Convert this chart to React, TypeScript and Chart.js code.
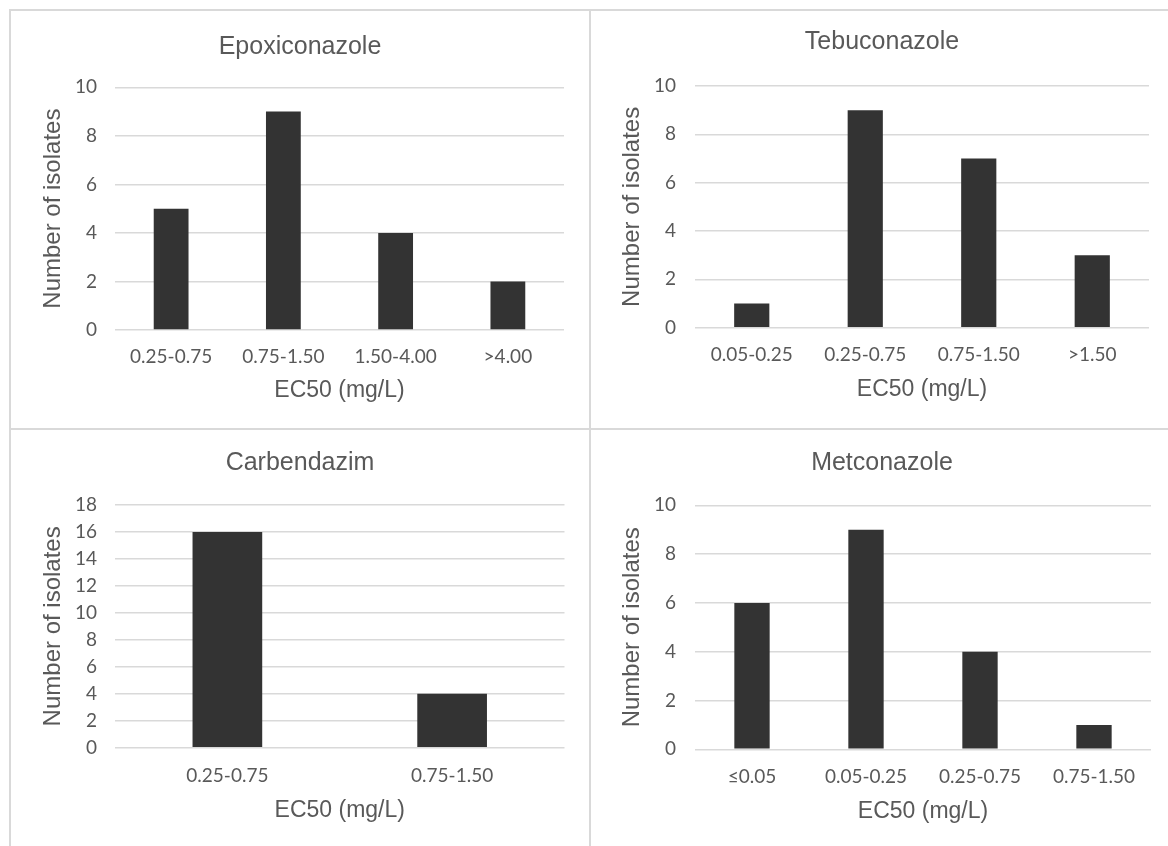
import React, { useEffect, useRef } from "react";
import { Chart, registerables } from "chart.js";

Chart.register(...registerables);

// ---------- data ----------
const epoxiconazoleCategories = ["0.25-0.75", "0.75-1.50", "1.50-4.00", ">4.00"];
const epoxiconazoleValues = [5, 9, 4, 2];

const tebuconazoleCategories = ["0.05-0.25", "0.25-0.75", "0.75-1.50", ">1.50"];
const tebuconazoleValues = [1, 9, 7, 3];

const carbendazimCategories = ["0.25-0.75", "0.75-1.50"];
const carbendazimValues = [16, 4];

const metconazoleCategories = ["≤0.05", "0.05-0.25", "0.25-0.75", "0.75-1.50"];
const metconazoleValues = [6, 9, 4, 1];

const yAxisMax = [10, 10, 18, 10];
const yAxisStep = [2, 2, 2, 2];

const panelTitles = ["Epoxiconazole", "Tebuconazole", "Carbendazim", "Metconazole"];
const xAxisTitle = "EC50 (mg/L)";
const yAxisTitle = "Number of isolates";

// ---------- styles / layout ----------
const TEXT = "#595959";
const GRID = "#d9d9d9";
const BAR = "#333333";
const BORDER = "#d9d9d9";

const TITLE_FONT = { family: "'Liberation Sans', Arial, sans-serif", size: 25 };
const X_TITLE_FONT = { family: "'Liberation Sans', Arial, sans-serif", size: 23 };
const Y_TITLE_FONT = { family: "'Liberation Sans', Arial, sans-serif", size: 24 };
const TICK_FONT = { family: "Lato, 'Open Sans', sans-serif", size: 19 };

type Layout = {
  cx: number; cy: number; w: number; h: number;
  plotLeft: number; plotRight: number; plotTop: number; plotBottom: number;
  titleX: number; titleY: number; yTitleX: number;
  tickGap: number; xTitleGap: number; yTickPad: number;
};

const layouts: Layout[] = [
  { cx: 10, cy: 10, w: 580, h: 418, plotLeft: 115, plotRight: 564, plotTop: 87.3, plotBottom: 330,
    titleX: 300, titleY: 47, yTitleX: 53.5, tickGap: 27, xTitleGap: 60.5, yTickPad: 18 },
  { cx: 590, cy: 10, w: 578, h: 418, plotLeft: 695, plotRight: 1149, plotTop: 86, plotBottom: 327.7,
    titleX: 882, titleY: 42, yTitleX: 632.5, tickGap: 27.3, xTitleGap: 62, yTickPad: 19 },
  { cx: 10, cy: 428, w: 580, h: 418, plotLeft: 115, plotRight: 564.5, plotTop: 505, plotBottom: 747.7,
    titleX: 300, titleY: 462.7, yTitleX: 53.5, tickGap: 28.3, xTitleGap: 62.5, yTickPad: 18 },
  { cx: 590, cy: 428, w: 578, h: 418, plotLeft: 695, plotRight: 1151, plotTop: 505.3, plotBottom: 749.3,
    titleX: 882, titleY: 462.7, yTitleX: 632.5, tickGap: 27.7, xTitleGap: 62.4, yTickPad: 19 },
];

const panelData = [
  { categories: epoxiconazoleCategories, values: epoxiconazoleValues },
  { categories: tebuconazoleCategories, values: tebuconazoleValues },
  { categories: carbendazimCategories, values: carbendazimValues },
  { categories: metconazoleCategories, values: metconazoleValues },
];

function Panel({ index }: { index: number }) {
  const ref = useRef<HTMLCanvasElement | null>(null);
  const L = layouts[index];

  useEffect(() => {
    if (!ref.current) return;
    const { categories, values } = panelData[index];
    const cl = L.plotLeft - L.cx;
    const cr = L.plotRight - L.cx;
    const ct = L.plotTop - L.cy;
    const cb = L.plotBottom - L.cy;
    const padRight = L.w - cr;
    const padLeft = Math.max(0, 2 * (L.titleX - L.cx) - cr);
    const yWidth = cl - padLeft;
    const titleLH = TITLE_FONT.size * 1.2;
    const xAxisLH = X_TITLE_FONT.size * 1.2;
    const yAxisLH = Y_TITLE_FONT.size * 1.2;
    const tickLH = TICK_FONT.size * 1.2;
    const titlePadTop = L.titleY - L.cy - titleLH / 2;
    const titlePadBottom = ct - titlePadTop - titleLH;
    const yTitlePadTop = L.yTitleX - L.cx - padLeft - yAxisLH / 2;
    const xHeight = L.h - cb;
    const tickPad = L.tickGap - tickLH / 2;
    const xTitlePadBottom = xHeight - L.xTitleGap - xAxisLH / 2;

    const chart = new Chart(ref.current, {
      type: "bar",
      data: {
        labels: categories,
        datasets: [
          {
            data: values,
            backgroundColor: BAR,
            borderWidth: 0,
            categoryPercentage: 1,
            barPercentage: 0.31,
          },
        ],
      },
      options: {
        animation: false,
        responsive: false,
        maintainAspectRatio: false,
        devicePixelRatio: 1,
        layout: { padding: { left: padLeft, right: padRight, top: 0, bottom: 0 } },
        plugins: {
          legend: { display: false },
          tooltip: { enabled: false },
          title: {
            display: true,
            text: panelTitles[index],
            color: TEXT,
            font: { ...TITLE_FONT, weight: "normal" },
            padding: { top: titlePadTop, bottom: titlePadBottom },
          },
        },
        scales: {
          x: {
            grid: { display: false, drawTicks: false },
            border: { display: false },
            ticks: { color: TEXT, font: TICK_FONT, padding: tickPad, maxRotation: 0, autoSkip: false },
            title: {
              display: true,
              text: xAxisTitle,
              color: TEXT,
              font: X_TITLE_FONT,
              padding: { top: 0, bottom: xTitlePadBottom },
            },
            afterFit: (s: any) => { s.height = xHeight; },
          },
          y: {
            min: 0,
            max: yAxisMax[index],
            grid: { color: GRID, lineWidth: 1.5, drawTicks: false },
            border: { display: false },
            ticks: { color: TEXT, font: TICK_FONT, stepSize: yAxisStep[index], padding: L.yTickPad },
            title: {
              display: true,
              text: yAxisTitle,
              color: TEXT,
              font: Y_TITLE_FONT,
              padding: { top: yTitlePadTop, bottom: 0 },
            },
            afterFit: (s: any) => { s.width = yWidth; },
          },
        },
      },
    } as any);
    return () => chart.destroy();
  }, [index]);

  return (
    <canvas
      ref={ref}
      width={L.w}
      height={L.h}
      style={{ position: "absolute", left: L.cx, top: L.cy, width: L.w, height: L.h }}
    />
  );
}

export default function App() {
  const line = (s: React.CSSProperties) => (
    <div style={{ position: "absolute", background: BORDER, ...s }} />
  );
  return (
    <div
      style={{
        position: "absolute",
        left: 0,
        top: 0,
        width: 1168,
        height: 846,
        overflow: "hidden",
        background: "#ffffff",
      }}
    >
      {line({ left: 9, top: 9, width: 1159, height: 2 })}
      {line({ left: 9, top: 427.5, width: 1159, height: 2 })}
      {line({ left: 9, top: 9, width: 2, height: 837 })}
      {line({ left: 589, top: 9, width: 2, height: 837 })}
      {[0, 1, 2, 3].map((i) => (
        <Panel key={i} index={i} />
      ))}
    </div>
  );
}
